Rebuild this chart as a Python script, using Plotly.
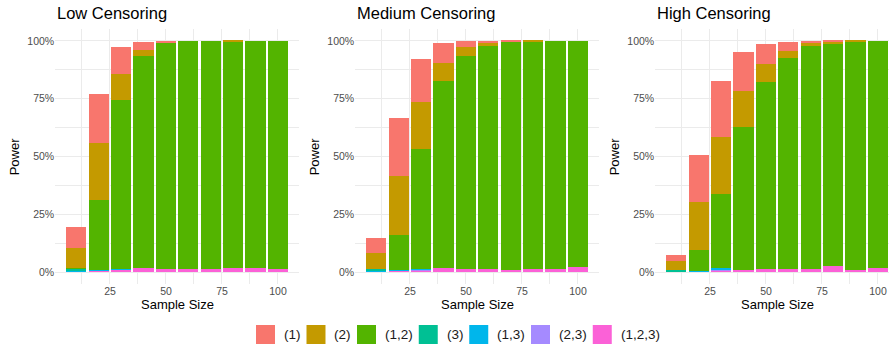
import plotly.graph_objects as go

W, H = 889, 349
FONT = "Liberation Sans, Arial, Helvetica, sans-serif"

sample_sizes = [10, 20, 30, 40, 50, 60, 70, 80, 90, 100]
combos = ["(1)", "(2)", "(1,2)", "(3)", "(1,3)", "(2,3)", "(1,2,3)"]
combo_colors = ["#F8766D", "#C49A00", "#53B400", "#00C094", "#00B6EB", "#A58AFF", "#FB61D7"]
panel_titles = ["Low Censoring", "Medium Censoring", "High Censoring"]
x_ticks = [25, 50, 75, 100]
y_ticks = [0, 0.25, 0.5, 0.75, 1.0]
y_tick_labels = ["0%", "25%", "50%", "75%", "100%"]

# Selection frequency (%) of each variable set, by sample size
low_1 = [8.9, 21.2, 11.5, 3.5, 1.0, 0.0, 0.0, 0.0, 0.0, 0.0]
low_2 = [8.7, 24.5, 11.3, 2.4, 0.0, 0.0, 0.0, 0.3, 0.0, 0.0]
low_12 = [0.6, 30.2, 73.2, 91.7, 97.4, 98.7, 98.4, 97.7, 98.0, 98.4]
low_3 = [0.9, 0.1, 0.0, 0.0, 0.0, 0.0, 0.0, 0.0, 0.0, 0.0]
low_13 = [0.2, 0.3, 0.2, 0.0, 0.0, 0.0, 0.0, 0.0, 0.0, 0.0]
low_23 = [0.0, 0.1, 0.0, 0.3, 0.1, 0.0, 0.2, 0.0, 0.3, 0.0]
low_123 = [0.3, 0.7, 1.2, 1.7, 1.5, 1.3, 1.4, 2.0, 1.7, 1.6]

med_1 = [6.4, 24.9, 18.4, 8.6, 2.6, 0.9, 0.4, 0.0, 0.0, 0.0]
med_2 = [6.8, 25.7, 20.5, 7.8, 3.7, 1.1, 0.0, 0.3, 0.0, 0.0]
med_12 = [0.1, 15.1, 52.0, 80.7, 92.2, 96.4, 98.4, 98.3, 98.6, 97.9]
med_3 = [1.0, 0.0, 0.0, 0.0, 0.0, 0.0, 0.0, 0.0, 0.0, 0.0]
med_13 = [0.2, 0.2, 0.2, 0.0, 0.1, 0.0, 0.0, 0.0, 0.0, 0.0]
med_23 = [0.0, 0.0, 0.4, 0.3, 0.1, 0.0, 0.0, 0.0, 0.0, 0.0]
med_123 = [0.3, 0.8, 0.7, 1.7, 1.3, 1.6, 1.2, 1.4, 1.4, 2.1]

high_1 = [2.6, 20.3, 24.2, 16.8, 8.6, 3.9, 0.7, 0.4, 0.0, 0.0]
high_2 = [3.9, 20.7, 24.5, 15.6, 7.9, 2.9, 1.3, 0.7, 0.4, 0.0]
high_12 = [0.1, 9.2, 32.0, 61.6, 80.9, 91.2, 96.7, 96.0, 98.4, 98.0]
high_3 = [0.5, 0.1, 0.2, 0.0, 0.0, 0.0, 0.0, 0.0, 0.0, 0.0]
high_13 = [0.2, 0.1, 1.0, 0.3, 0.1, 0.0, 0.0, 0.0, 0.0, 0.0]
high_23 = [0.0, 0.1, 0.1, 0.0, 0.0, 0.0, 0.0, 0.0, 0.0, 0.3]
high_123 = [0.2, 0.3, 0.7, 0.9, 1.3, 1.6, 1.3, 2.9, 1.2, 1.7]

panels = [
    [low_1, low_2, low_12, low_3, low_13, low_23, low_123],
    [med_1, med_2, med_12, med_3, med_13, med_23, med_123],
    [high_1, high_2, high_12, high_3, high_13, high_23, high_123],
]


def fx(px):
    return px / W


def fy(py):
    return 1 - py / H


fig = go.Figure()

# Panel geometry (pixels)
PANEL_LEFT0 = 55.2
PANEL_STEP = 300.0
PANEL_W = 243.9
PX_PER_UNIT = 2.24
X0 = 0.55
PANEL_TOP, PANEL_BOTTOM = 29.4, 283.9

grid = "#EBEBEB"
layout_axes = {}
annotations = []
shapes = []

for p, title in enumerate(panel_titles):
    sfx = "" if p == 0 else str(p + 1)
    # first level on top of the stack: add traces bottom-up
    for name, color, col in reversed(list(zip(combos, combo_colors, panels[p]))):
        fig.add_trace(go.Bar(
            x=sample_sizes, y=[v / 100 for v in col], width=9,
            marker=dict(color=color, line=dict(width=0)),
            name=name, showlegend=False,
            xaxis="x" + sfx, yaxis="y" + sfx,
        ))

    left = PANEL_LEFT0 + PANEL_STEP * p
    right = min(left + PANEL_W, W)
    x_hi = X0 + (right - left) / PX_PER_UNIT

    layout_axes["xaxis" + sfx] = dict(
        domain=[fx(left), fx(right)], range=[X0, x_hi], anchor="y" + sfx,
        tickmode="array", tickvals=x_ticks, ticktext=[str(t) for t in x_ticks],
        showgrid=True, gridcolor=grid, gridwidth=1.1,
        minor=dict(tickvals=[12.5, 37.5, 62.5, 87.5], showgrid=True,
                   gridcolor=grid, gridwidth=0.55, ticks=""),
        zeroline=False, showline=False, ticks="",
        tickfont=dict(family=FONT, size=10.5, color="#4D4D4D"),
        fixedrange=True,
    )
    layout_axes["yaxis" + sfx] = dict(
        domain=[fy(PANEL_BOTTOM), fy(PANEL_TOP)], range=[-0.05, 1.05], anchor="x" + sfx,
        tickmode="array", tickvals=y_ticks, ticktext=y_tick_labels,
        showgrid=True, gridcolor=grid, gridwidth=1.1,
        minor=dict(tickvals=[0.125, 0.375, 0.625, 0.875], showgrid=True,
                   gridcolor=grid, gridwidth=0.55, ticks=""),
        zeroline=False, showline=False, ticks="",
        tickfont=dict(family=FONT, size=10.5, color="#4D4D4D"),
        fixedrange=True,
    )

    # panel title
    annotations.append(dict(
        text=title, x=fx(left), y=fy(12.8), xref="paper", yref="paper",
        xanchor="left", yanchor="middle", showarrow=False,
        font=dict(family=FONT, size=16.5, color="black"),
    ))
    # axis titles
    annotations.append(dict(
        text="Sample Size", x=fx((left + left + PANEL_W) / 2), y=fy(304.5),
        xref="paper", yref="paper", xanchor="center", yanchor="middle",
        showarrow=False, font=dict(family=FONT, size=13, color="black"),
    ))
    annotations.append(dict(
        text="Power", x=fx(14.7 + PANEL_STEP * p), y=fy((PANEL_TOP + PANEL_BOTTOM) / 2),
        xref="paper", yref="paper", xanchor="center", yanchor="middle", textangle=-90,
        showarrow=False, font=dict(family=FONT, size=13, color="black"),
    ))

# Legend along the bottom
CHAR_W = {"(": 0.333, ")": 0.333, ",": 0.278}
LEG_FONT = 13.5
KEY = 19
key_x = 256.0
key_top = 325.0
for name, color in zip(combos, combo_colors):
    shapes.append(dict(
        type="rect", xref="paper", yref="paper",
        x0=fx(key_x), x1=fx(key_x + KEY), y0=fy(key_top + KEY), y1=fy(key_top),
        fillcolor=color, line=dict(width=0), layer="above",
    ))
    annotations.append(dict(
        text=name, x=fx(key_x + KEY + 7), y=fy(key_top + KEY / 2),
        xref="paper", yref="paper", xanchor="left", yanchor="middle",
        showarrow=False, font=dict(family=FONT, size=LEG_FONT, color="#1A1A1A"),
    ))
    text_w = sum(CHAR_W.get(c, 0.556) for c in name) * LEG_FONT
    key_x += KEY + 7 + text_w + 8

fig.update_layout(
    width=W, height=H,
    margin=dict(l=0, r=0, t=0, b=0, pad=0),
    barmode="stack",
    paper_bgcolor="white", plot_bgcolor="white",
    showlegend=False,
    font=dict(family=FONT),
    annotations=annotations,
    shapes=shapes,
    **layout_axes,
)

fig.write_html("out.html")
